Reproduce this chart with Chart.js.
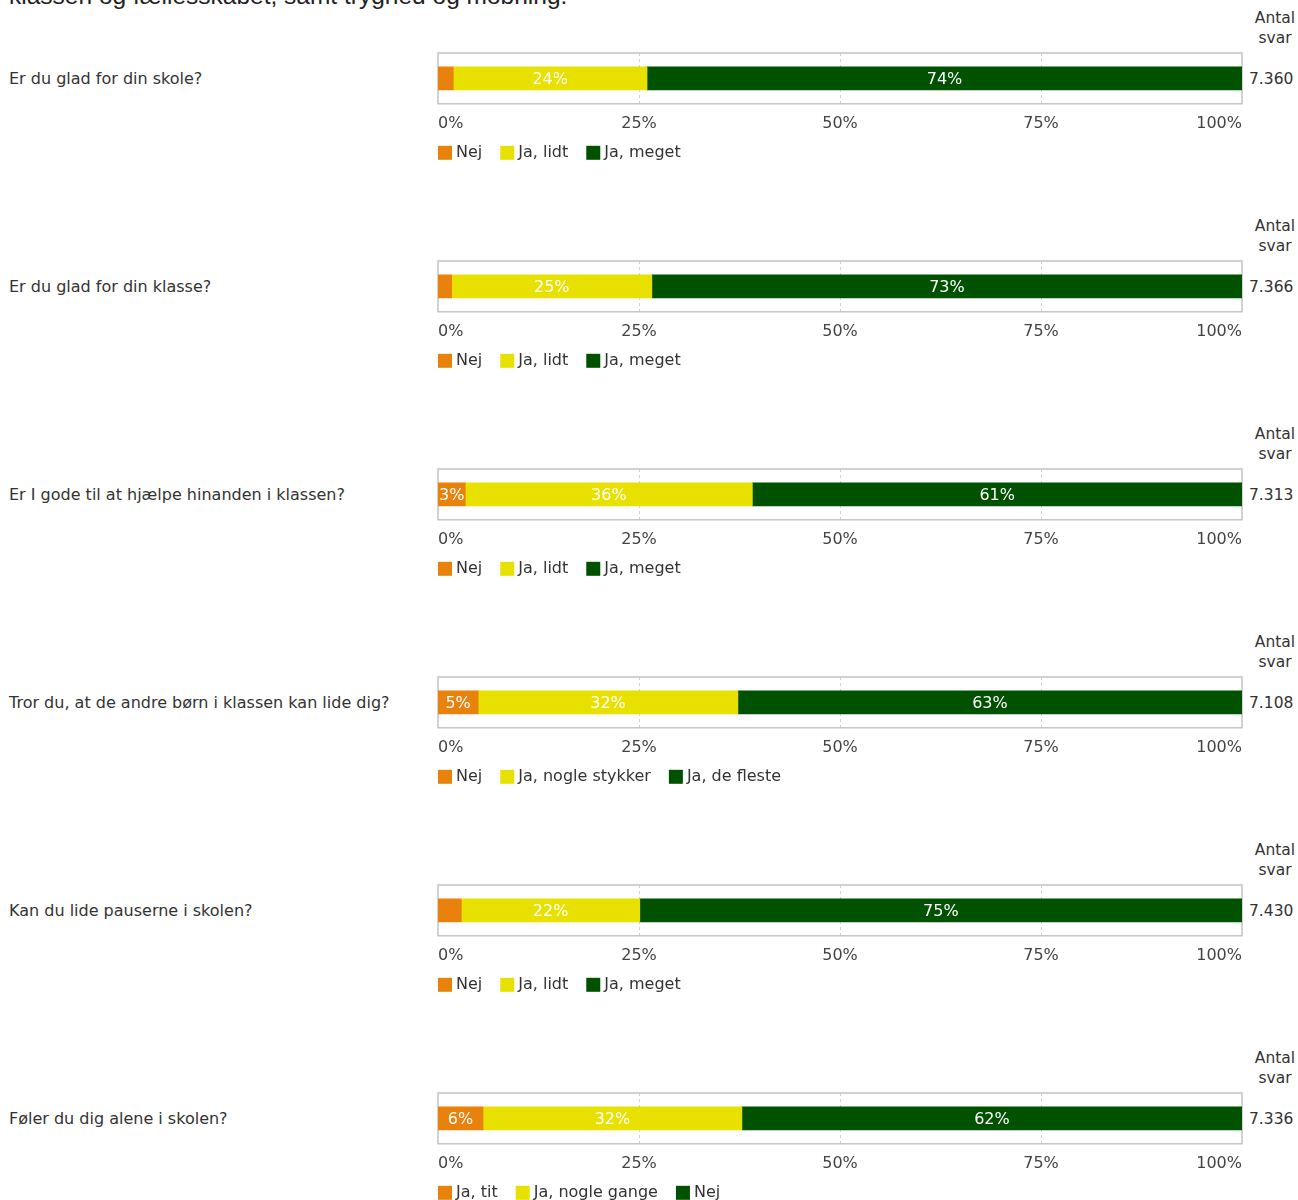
<!DOCTYPE html>
<html>
<head>
<meta charset="utf-8">
<script src="https://cdn.jsdelivr.net/npm/chart.js@4.4.1/dist/chart.umd.min.js"></script>
<style>
  body { margin: 0; background: #fff; width: 1298px; height: 1200px; overflow: hidden; position: relative; font-family: "DejaVu Sans", Verdana, sans-serif; color: #333; }
  .intro { position: absolute; left: 9px; top: -15px; font: 24.5px "Liberation Sans", Arial, sans-serif; color: #222; white-space: nowrap; line-height: 22px; }
  .panel { position: absolute; left: 0; width: 1298px; height: 208px; }
  .question { position: absolute; left: 9px; top: 69px; font-size: 16px; line-height: 20px; white-space: nowrap; }
  .antal { position: absolute; left: 1245px; width: 60px; top: 8px; font-size: 15.5px; line-height: 20px; text-align: center; }
  .count { position: absolute; left: 1249px; top: 69px; font-size: 15.5px; line-height: 20px; }
  canvas { position: absolute; left: 428px; top: 43px; }
</style>
</head>
<body>
<div class="intro">klassen og fællesskabet, samt tryghed og mobning.</div>
<div id="panels"></div>
<script>
const questions = [
  'Er du glad for din skole?',
  'Er du glad for din klasse?',
  'Er I gode til at hjælpe hinanden i klassen?',
  'Tror du, at de andre børn i klassen kan lide dig?',
  'Kan du lide pauserne i skolen?',
  'Føler du dig alene i skolen?'
];
const counts = ['7.360', '7.366', '7.313', '7.108', '7.430', '7.336'];

// answer labels per question (low, middle, high)
const answers = [
  ['Nej', 'Ja, lidt', 'Ja, meget'],
  ['Nej', 'Ja, lidt', 'Ja, meget'],
  ['Nej', 'Ja, lidt', 'Ja, meget'],
  ['Nej', 'Ja, nogle stykker', 'Ja, de fleste'],
  ['Nej', 'Ja, lidt', 'Ja, meget'],
  ['Ja, tit', 'Ja, nogle gange', 'Nej']
];

// percentage shares
const lowShare  = [1.9, 1.7, 3.4, 5.0, 2.9, 5.6];
const midShare  = [24.1, 24.9, 35.7, 32.3, 22.2, 32.2];
const highShare = [74.0, 73.4, 60.9, 62.7, 74.9, 62.2];

const xTicks = [0, 25, 50, 75, 100];
const colors = ['#e8820c', '#e8e100', '#005100'];
const FONT = '"DejaVu Sans", Verdana, sans-serif';

// frame round the plot plus dashed lines at the inner ticks
const boxPlugin = {
  id: 'box',
  beforeDatasetsDraw(chart) {
    const { ctx, chartArea: a } = chart;
    const xs = chart.scales.x;
    ctx.save();
    ctx.strokeStyle = '#d0d0d0';
    ctx.lineWidth = 1;
    ctx.setLineDash([3, 3]);
    xTicks.slice(1, -1).forEach(v => {
      const px = Math.round(xs.getPixelForValue(v)) + 0.5;
      ctx.beginPath();
      ctx.moveTo(px, a.top);
      ctx.lineTo(px, a.bottom);
      ctx.stroke();
    });
    ctx.setLineDash([]);
    ctx.strokeStyle = '#c4c4c4';
    ctx.lineWidth = 1.5;
    ctx.strokeRect(a.left, a.top, a.right - a.left, a.bottom - a.top);
    ctx.restore();
  }
};

const labelPlugin = {
  id: 'segLabels',
  afterDatasetsDraw(chart) {
    const { ctx } = chart;
    ctx.save();
    ctx.fillStyle = '#ffffff';
    ctx.font = '16px ' + FONT;
    ctx.textAlign = 'center';
    ctx.textBaseline = 'middle';
    chart.data.datasets.forEach((ds, i) => {
      chart.getDatasetMeta(i).data.forEach((bar, j) => {
        const w = Math.abs(bar.x - bar.base);
        if (w < 25) return;
        ctx.fillText(Math.round(ds.data[j]) + '%', (bar.x + bar.base) / 2, bar.y + 1);
      });
    });
    ctx.restore();
  }
};

// legend drawn under the axis: square, small gap, label
const legendPlugin = {
  id: 'flatLegend',
  afterDraw(chart) {
    const { ctx, chartArea: a } = chart;
    let x = a.left;
    const y = a.bottom + 49;
    ctx.save();
    ctx.font = '16px ' + FONT;
    ctx.textBaseline = 'middle';
    chart.data.datasets.forEach(ds => {
      ctx.fillStyle = ds.backgroundColor;
      ctx.fillRect(x, y - 7, 14, 14);
      ctx.fillStyle = '#333';
      ctx.fillText(ds.label, x + 18, y);
      x += 18 + ctx.measureText(ds.label).width + 18;
    });
    ctx.restore();
  }
};

const holder = document.getElementById('panels');
questions.forEach((question, i) => {
  const panel = document.createElement('div');
  panel.className = 'panel';
  panel.style.top = (i * 208) + 'px';
  panel.innerHTML = `<div class="question">${question}</div>
    <div class="antal">Antal<br>svar</div>
    <div class="count">${counts[i]}</div>
    <canvas width="824" height="137"></canvas>`;
  holder.appendChild(panel);

  const shares = [lowShare[i], midShare[i], highShare[i]];
  new Chart(panel.querySelector('canvas'), {
    type: 'bar',
    data: {
      labels: [question],
      datasets: answers[i].map((name, k) => ({
        label: name,
        data: [shares[k]],
        backgroundColor: colors[k],
        borderWidth: 0,
        barThickness: 23
      }))
    },
    options: {
      indexAxis: 'y',
      responsive: false,
      animation: false,
      devicePixelRatio: 1,
      layout: { padding: { left: 0, top: 10, right: 0, bottom: 37 } },
      scales: {
        x: {
          stacked: true,
          min: 0,
          max: 100,
          afterBuildTicks: (s) => { s.ticks = xTicks.map(v => ({ value: v })); },
          ticks: {
            align: 'inner',
            padding: 10,
            color: '#444',
            font: { family: FONT, size: 16 },
            callback: (v) => v + '%'
          },
          grid: { display: false, drawTicks: false },
          border: { display: false }
        },
        y: { stacked: true, display: false }
      },
      plugins: {
        tooltip: { enabled: false },
        legend: { display: false }
      }
    },
    plugins: [boxPlugin, labelPlugin, legendPlugin]
  });
});
</script>
</body>
</html>
